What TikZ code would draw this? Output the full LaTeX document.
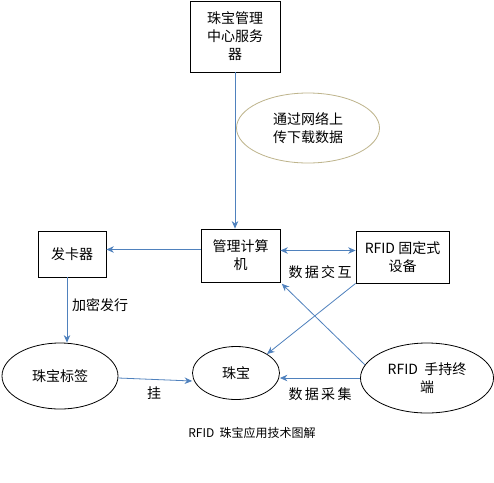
\documentclass[tikz,border=0pt]{standalone}
\usepackage{fontspec}
\setmainfont{Noto Sans CJK SC}
\usetikzlibrary{shapes.geometric,arrows.meta}
\definecolor{linkblue}{RGB}{79,129,189}
\definecolor{olive}{RGB}{190,180,140}
\tikzset{
  box/.style={draw,thick,inner sep=0pt,align=center,font=\fontsize{14}{18}\selectfont},
  oval/.style={draw,thick,ellipse,inner sep=0pt,align=center,font=\fontsize{14}{18}\selectfont},
  link/.style={linkblue,thick,-{Stealth[length=7.5pt,width=6.5pt]}},
  lbl/.style={font=\fontsize{14}{18}\selectfont}
}
\begin{document}
\begin{tikzpicture}[x=1pt,y=-1pt]
\useasboundingbox[fill=white] (0,0) rectangle (494,482);
\node[box,minimum width=90pt,minimum height=71pt] (server) at (235,36.5) {珠宝管理\\中心服务\\器};
\node[oval,draw=olive,minimum width=143pt,minimum height=70pt] (net) at (308,128) {通过网络上\\传下载数据};
\node[box,minimum width=79pt,minimum height=53pt] (computer) at (240.5,255.5) {管理计算\\机};
\node[box,minimum width=68pt,minimum height=46pt] (card) at (72,254) {发卡器};
\node[box,minimum width=93pt,minimum height=52pt] (fixed) at (402.5,257) {RFID 固定式\\设备};
\node[oval,minimum width=116pt,minimum height=66pt] (tag) at (60,376) {珠宝标签};
\node[oval,minimum width=87pt,minimum height=53pt] (jewel) at (236,373) {珠宝};
\node[oval,minimum width=133pt,minimum height=70pt] (handheld) at (427,378) {RFID\ \ 手持终\\端};
\node[lbl] (exchange) at (320,272) {数\,据\,交\,互};
\node[lbl] (encrypt) at (100,305) {加密发行};
\node[lbl] (hang) at (154,393) {挂};
\node[lbl] (collect) at (320,394) {数\,据\,采\,集};
\node[font=\fontsize{12}{14}\selectfont] (caption) at (252,433) {RFID\ \ 珠宝应用技术图解};
\draw[link] (server.south) -- (server.south |- computer.north);
\draw[link] ([yshift=6pt]computer.west) -- ([yshift=6pt]computer.west -| card.east);
\draw[link,{Stealth[length=7.5pt,width=6.5pt]}-{Stealth[length=7.5pt,width=6.5pt]}] ([yshift=5pt]computer.east) -- ([yshift=5pt]computer.east -| fixed.west);
\draw[link] ([xshift=-5pt]card.south) -- ([xshift=-5pt]card.south |- tag.north);
\draw[link] ([yshift=-2pt]tag.east) -- ([yshift=-8pt]jewel.west);
\draw[link] (handheld.west) -- (handheld.west -| jewel.east);
\draw[link] (fixed.south west) -- (jewel.north east);
\draw[link,shorten >=2pt] (handheld.168) -- (computer.south east);
\end{tikzpicture}
\end{document}
